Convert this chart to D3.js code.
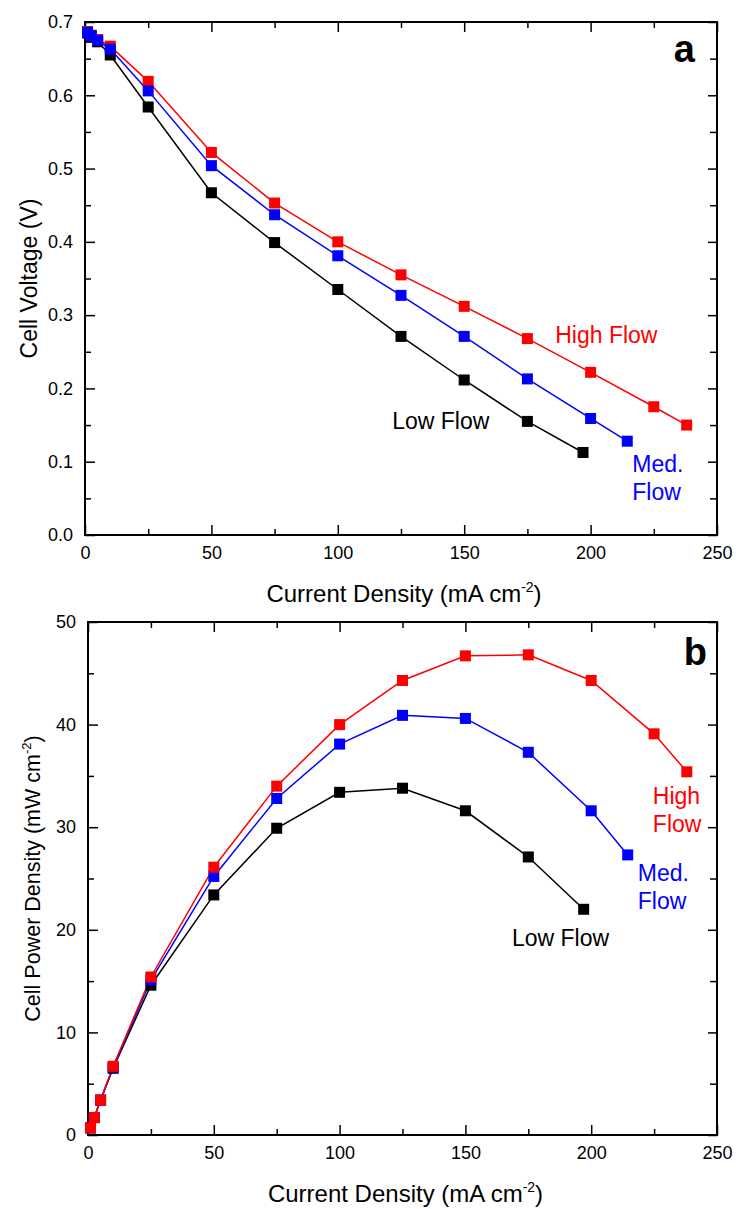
<!DOCTYPE html>
<html><head><meta charset="utf-8">
<script src="https://cdn.jsdelivr.net/npm/d3@7"></script>
<style>
body{margin:0;background:#fff;}
text{font-family:"Liberation Sans",Arial,sans-serif;}
</style></head>
<body><svg id="chart" width="736" height="1209"></svg>
<script>
// ---- data ----
const currentHigh = [1, 2.5, 5, 10, 25, 50, 75, 100, 125, 150, 175, 200, 225, 238];
const currentMed  = [1, 2.5, 5, 10, 25, 50, 75, 100, 125, 150, 175, 200, 214.5];
const currentLow  = [1, 2.5, 5, 10, 25, 50, 75, 100, 125, 150, 175, 197];

const voltageHigh = [0.687, 0.682, 0.676, 0.667, 0.619, 0.522, 0.453, 0.400, 0.355, 0.312, 0.268, 0.222, 0.175, 0.150];
const voltageMed  = [0.686, 0.681, 0.675, 0.663, 0.606, 0.504, 0.437, 0.381, 0.327, 0.271, 0.213, 0.159, 0.128];
const voltageLow  = [0.685, 0.679, 0.673, 0.655, 0.584, 0.467, 0.399, 0.335, 0.271, 0.2115, 0.155, 0.1126];

const powerHigh = [0.7, 1.7, 3.4, 6.7, 15.4, 26.1, 34.0, 40.0, 44.3, 46.7, 46.8, 44.3, 39.1, 35.4];
const powerMed  = [0.7, 1.7, 3.4, 6.6, 15.1, 25.2, 32.8, 38.1, 40.9, 40.6, 37.3, 31.6, 27.3];
const powerLow  = [0.7, 1.7, 3.4, 6.5, 14.6, 23.4, 29.9, 33.4, 33.8, 31.6, 27.1, 22.0];

const xMajorTicks = [0, 50, 100, 150, 200, 250];
const xMinorTicks = [25, 75, 125, 175, 225];
const vMajorTicks = [0, 0.1, 0.2, 0.3, 0.4, 0.5, 0.6, 0.7];
const vMinorTicks = [0.05, 0.15, 0.25, 0.35, 0.45, 0.55, 0.65];
const pMajorTicks = [0, 10, 20, 30, 40, 50];
const pMinorTicks = [5, 15, 25, 35, 45];

const seriesNames = ["Low Flow", "Med. Flow", "High Flow"];
const colors = {"Low Flow": "#000000", "Med. Flow": "#0000ff", "High Flow": "#ff0000"};

const svg = d3.select("#chart");

function zip(xs, ys){ return xs.map((x,i)=>({x:x, y:ys[i]})); }

function drawPanel(cfg){
  const g = svg.append("g");
  const x = d3.scaleLinear().domain([0,250]).range([cfg.left, cfg.right]);
  const y = d3.scaleLinear().domain(cfg.yDomain).range([cfg.bottom, cfg.top]);

  const styleAxis = sel => {
    sel.select(".domain").remove();
    sel.selectAll("line").attr("stroke","#000").attr("stroke-width",1.5);
    sel.selectAll("text").attr("font-size",18).attr("fill","#000")
      .style("font-family",'"Liberation Sans",Arial,sans-serif');
  };
  // bottom
  g.append("g").attr("transform",`translate(0,${cfg.bottom})`)
    .call(d3.axisBottom(x).tickValues(xMajorTicks).tickSize(-10).tickSizeOuter(0).tickPadding(11).tickFormat(d3.format("d")))
    .call(styleAxis);
  g.append("g").attr("transform",`translate(0,${cfg.bottom})`)
    .call(d3.axisBottom(x).tickValues(xMinorTicks).tickSize(-6).tickSizeOuter(0).tickFormat(""))
    .call(styleAxis);
  // top
  g.append("g").attr("transform",`translate(0,${cfg.top})`)
    .call(d3.axisTop(x).tickValues(xMajorTicks).tickSize(-10).tickSizeOuter(0).tickFormat(""))
    .call(styleAxis);
  g.append("g").attr("transform",`translate(0,${cfg.top})`)
    .call(d3.axisTop(x).tickValues(xMinorTicks).tickSize(-6).tickSizeOuter(0).tickFormat(""))
    .call(styleAxis);
  // left
  g.append("g").attr("transform",`translate(${cfg.left},0)`)
    .call(d3.axisLeft(y).tickValues(cfg.yMajor).tickSize(-10).tickSizeOuter(0).tickPadding(cfg.yPad).tickFormat(cfg.yFormat))
    .call(styleAxis);
  g.append("g").attr("transform",`translate(${cfg.left},0)`)
    .call(d3.axisLeft(y).tickValues(cfg.yMinor).tickSize(-6).tickSizeOuter(0).tickFormat(""))
    .call(styleAxis);
  // right
  g.append("g").attr("transform",`translate(${cfg.right},0)`)
    .call(d3.axisRight(y).tickValues(cfg.yMajor).tickSize(-9).tickSizeOuter(0).tickFormat(""))
    .call(styleAxis);
  g.append("g").attr("transform",`translate(${cfg.right},0)`)
    .call(d3.axisRight(y).tickValues(cfg.yMinor).tickSize(-7).tickSizeOuter(0).tickFormat(""))
    .call(styleAxis);

  // frame
  g.append("rect").attr("x",cfg.left).attr("y",cfg.top)
    .attr("width",cfg.right-cfg.left).attr("height",cfg.bottom-cfg.top)
    .attr("fill","none").attr("stroke","#000").attr("stroke-width",2);

  // series
  const line = d3.line().x(d=>x(d.x)).y(d=>y(d.y));
  cfg.order.forEach(name=>{
    const data = cfg.series[name];
    const c = colors[name];
    g.append("path").datum(data).attr("d",line)
      .attr("fill","none").attr("stroke",c).attr("stroke-width",1.5);
  });
  cfg.order.forEach(name=>{
    const data = cfg.series[name];
    const c = colors[name];
    g.append("g").selectAll("rect").data(data).join("rect")
      .attr("x",d=>x(d.x)-5.5).attr("y",d=>y(d.y)-5.5)
      .attr("width",11).attr("height",11).attr("fill",c);
  });

  // axis titles
  const xt = g.append("text").attr("x",(cfg.left+cfg.right)/2 + 3).attr("y",cfg.bottom+67)
    .attr("text-anchor","middle").attr("font-size",24).attr("fill","#000");
  xt.append("tspan").text("Current Density (mA cm");
  xt.append("tspan").attr("font-size",14).attr("dy",-10).text("-2");
  xt.append("tspan").attr("dy",10).text(")");

  const yt = g.append("text")
    .attr("transform",`translate(${cfg.yTitleX},${(cfg.top+cfg.bottom)/2 + cfg.yTitleShift}) rotate(-90)`)
    .attr("text-anchor","middle").attr("font-size",cfg.yTitleSize).attr("fill","#000");
  cfg.yTitle(yt);

  // panel letter
  g.append("text").attr("x",cfg.right-cfg.letterDx).attr("y",cfg.top+cfg.letterDy).attr("text-anchor","end")
    .attr("font-size",38).attr("font-weight","bold").attr("fill","#000").text(cfg.letter);

  // series labels
  cfg.labels.forEach(l=>{
    const t = g.append("text").attr("x",x(l.x)).attr("y",y(l.y))
      .attr("font-size",23).attr("fill",colors[l.name]);
    l.lines.forEach((s,i)=>{
      t.append("tspan").attr("x",x(l.x)).attr("dy", i===0?0:28).text(s);
    });
  });
}

drawPanel({
  left:85, right:717, top:22, bottom:535,
  yDomain:[0,0.7], yMajor:vMajorTicks, yMinor:vMinorTicks, yFormat:d3.format(".1f"), yPad:12,
  yTitleX:37, yTitleShift:0, yTitleSize:23, letter:"a", letterDx:22, letterDy:40,
  yTitle: t => t.text("Cell Voltage (V)"),
  order:["Low Flow","High Flow","Med. Flow"],
  series:{
    "Low Flow": zip(currentLow, voltageLow),
    "Med. Flow": zip(currentMed, voltageMed),
    "High Flow": zip(currentHigh, voltageHigh)
  },
  labels:[
    {name:"High Flow", x:186, y:0.262, lines:["High Flow"]},
    {name:"Low Flow", x:121.5, y:0.145, lines:["Low Flow"]},
    {name:"Med. Flow", x:216.5, y:0.086, lines:["Med.","Flow"]}
  ]
});

drawPanel({
  left:88, right:717, top:622, bottom:1135,
  yDomain:[0,50], yMajor:pMajorTicks, yMinor:pMinorTicks, yFormat:d3.format("d"), yPad:12,
  yTitleX:40, yTitleShift:0, yTitleSize:21.5, letter:"b", letterDx:10, letterDy:43,
  yTitle: t => {
    t.append("tspan").text("Cell Power Density (mW cm");
    t.append("tspan").attr("font-size",13).attr("dy",-9).text("-2");
    t.append("tspan").attr("dy",9).text(")");
  },
  order:["Low Flow","Med. Flow","High Flow"],
  series:{
    "Low Flow": zip(currentLow, powerLow),
    "Med. Flow": zip(currentMed, powerMed),
    "High Flow": zip(currentHigh, powerHigh)
  },
  labels:[
    {name:"High Flow", x:224.5, y:32.3, lines:["High","Flow"]},
    {name:"Med. Flow", x:218.5, y:24.8, lines:["Med.","Flow"]},
    {name:"Low Flow", x:168.5, y:18.4, lines:["Low Flow"]}
  ]
});
</script>
</body></html>
